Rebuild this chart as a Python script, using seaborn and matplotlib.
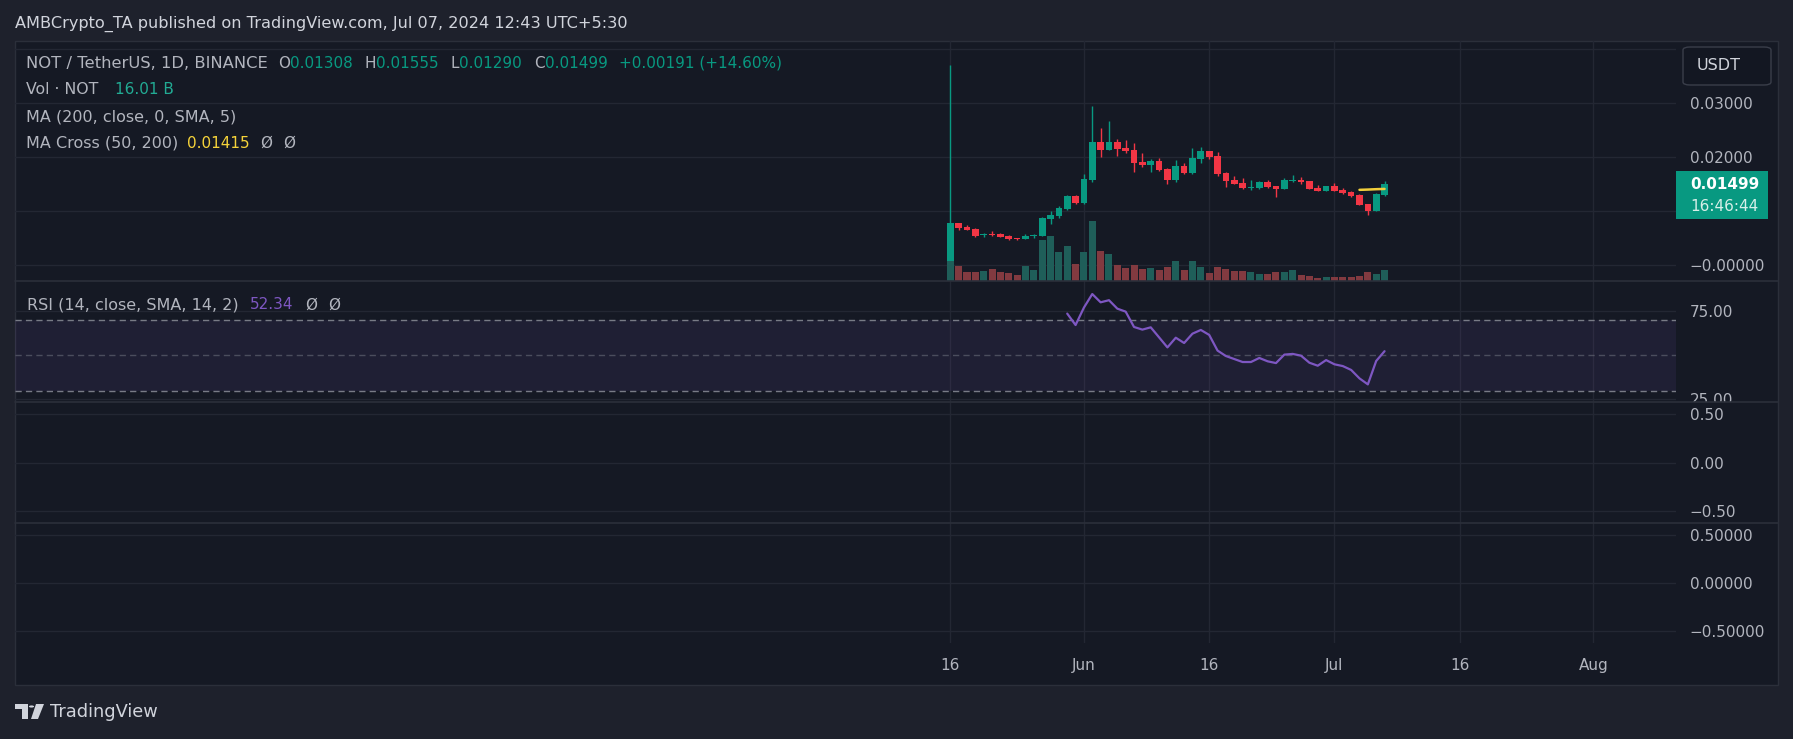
import numpy as np
import pandas as pd
import seaborn as sns
import matplotlib.pyplot as plt
from matplotlib.patches import Rectangle, FancyBboxPatch, Polygon, Circle
from matplotlib.lines import Line2D
from matplotlib.transforms import blended_transform_factory, offset_copy, Bbox

# NOT / USDT daily candles
dates = pd.date_range("2024-05-16", periods=53, freq="D")
opens = [0.0006, 0.00784, 0.00716, 0.00673, 0.0056, 0.0058, 0.0058, 0.00543, 0.00506, 0.00488,
         0.0055, 0.00543, 0.00858, 0.00914, 0.01043, 0.01284, 0.01154, 0.0158, 0.02284, 0.02136,
         0.02284, 0.02173, 0.02136, 0.01914, 0.01858, 0.01932, 0.01784, 0.0158, 0.0184, 0.0171,
         0.01969, 0.02117, 0.02025, 0.0171, 0.0158, 0.01525, 0.01432, 0.01432, 0.01543, 0.01469,
         0.01414, 0.01562, 0.0158, 0.01562, 0.01432, 0.01376, 0.01469, 0.01395, 0.01358, 0.01302,
         0.01136, 0.01006, 0.01308]
highs = [0.0371, 0.0079, 0.00747, 0.0069, 0.00605, 0.00636, 0.0059, 0.0056, 0.0051, 0.0058,
         0.0058, 0.00895, 0.01006, 0.01099, 0.01302, 0.0130, 0.01691, 0.0295, 0.02543, 0.02673,
         0.0234, 0.02321, 0.02265, 0.0208, 0.01969, 0.01988, 0.018, 0.0195, 0.01895, 0.02173,
         0.02191, 0.0212, 0.02099, 0.0172, 0.01654, 0.01617, 0.0158, 0.01562, 0.0158, 0.0147,
         0.01617, 0.01673, 0.01636, 0.0157, 0.01488, 0.0147, 0.01525, 0.01432, 0.01376, 0.01321,
         0.0114, 0.0134, 0.01555]
lows = [0.0005, 0.00654, 0.0065, 0.0053, 0.00525, 0.0054, 0.0052, 0.0047, 0.0047, 0.0048,
        0.0051, 0.0054, 0.00765, 0.00877, 0.01025, 0.01136, 0.0114, 0.01543, 0.02006, 0.0213,
        0.02025, 0.0208, 0.01728, 0.01821, 0.01728, 0.0175, 0.01506, 0.01543, 0.01691, 0.01691,
        0.01895, 0.01969, 0.01654, 0.01451, 0.015, 0.01414, 0.01395, 0.01414, 0.01432, 0.01265,
        0.0141, 0.01543, 0.01506, 0.0141, 0.0137, 0.0137, 0.0137, 0.0133, 0.01265, 0.0111,
        0.00932, 0.01, 0.0129]
closes = [0.00784, 0.00691, 0.0066, 0.00543, 0.0058, 0.0056, 0.00525, 0.00488, 0.00488, 0.00543,
          0.0056, 0.00877, 0.00932, 0.01062, 0.01284, 0.01154, 0.01599, 0.02284, 0.02136, 0.02284,
          0.02154, 0.02117, 0.01895, 0.01858, 0.01932, 0.01765, 0.0158, 0.0184, 0.0171, 0.01988,
          0.02117, 0.02006, 0.01691, 0.01562, 0.01506, 0.01432, 0.0145, 0.01543, 0.0145, 0.01414,
          0.0158, 0.0158, 0.01543, 0.01414, 0.01376, 0.01469, 0.01376, 0.0134, 0.01284, 0.01117,
          0.01006, 0.01321, 0.01499]
# volume in billions NOT
volumes = [29.1, 21.8, 13.1, 13.1, 14.6, 17.5, 13.1, 11.6, 8.7, 21.8,
           16.0, 59.7, 65.5, 42.2, 50.9, 24.7, 42.2, 87.3, 43.7, 39.3,
           23.3, 18.9, 23.3, 17.5, 18.9, 16.0, 20.4, 29.1, 16.0, 29.1,
           20.4, 11.6, 20.4, 17.5, 14.6, 14.6, 13.1, 10.2, 10.2, 13.1,
           13.1, 16.0, 8.7, 7.3, 4.4, 5.8, 5.8, 5.8, 5.8, 7.3,
           13.1, 10.2, 16.01]
rsi_dates = dates[14:]
rsi_vals = [73.7, 67.2, 77.1, 84.8, 80.1, 81.3, 76.5, 74.8, 66.1, 64.6,
            65.9, 60.2, 54.5, 60.0, 57.0, 62.3, 64.4, 61.6, 52.7, 49.6,
            47.9, 46.2, 46.2, 48.5, 46.6, 45.6, 50.4, 50.8, 49.8, 45.8,
            44.1, 47.3, 44.9, 43.9, 41.7, 36.9, 33.5, 46.8, 52.34]
ma_dates = dates[49:]
ma_cross = [0.01398, 0.01403, 0.01410, 0.01415]

tick_dates = pd.to_datetime(["2024-05-16", "2024-06-01", "2024-06-16",
                             "2024-07-01", "2024-07-16", "2024-08-01"])
tick_names = ["16", "Jun", "16", "Jul", "16", "Aug"]

W, H = 1793, 739
BG = "#1e212c"
PANE = "#151924"
GRID = "#232733"
SEP = "#2b2f3a"
TXT = "#b2b5be"
UP = "#089981"
DOWN = "#f23645"

sns.set_theme(style="dark", rc={
    "axes.facecolor": PANE, "figure.facecolor": BG, "grid.color": GRID,
    "axes.edgecolor": PANE, "text.color": TXT, "xtick.color": TXT, "ytick.color": TXT,
    "patch.edgecolor": "none", "patch.linewidth": 0,
})
plt.rcParams["font.family"] = ["DejaVu Sans"]

fig = plt.figure(figsize=(W / 100, H / 100), dpi=100)


def px_box(top, bottom, left=15, right=1676):
    return [left / W, 1 - bottom / H, (right - left) / W, (bottom - top) / H]


def fx(x):
    return x / W


def fy(y):
    return 1 - y / H


# chart frame (behind the axes, gives the pane background)
fig.patches.append(Rectangle((fx(15), fy(685)), (1778 - 15) / W, (685 - 41) / H,
                             transform=fig.transFigure, facecolor=PANE, edgecolor=SEP, lw=1, zorder=-5))

ax_p = fig.add_axes(px_box(41, 281))
ax_r = fig.add_axes(px_box(281, 402), sharex=ax_p)
ax_a = fig.add_axes(px_box(402, 523), sharex=ax_p)
ax_b = fig.add_axes(px_box(523, 643), sharex=ax_p)

# volume overlay on a twin of the price pane
ax_v = ax_p.twinx()

for ax in (ax_p, ax_r, ax_a, ax_b):
    for s in ax.spines.values():
        s.set_visible(False)
    ax.patch.set_visible(False)
    ax.yaxis.tick_right()
    ax.tick_params(axis="y", length=0, pad=10, labelsize=11, labelcolor=TXT)
    ax.tick_params(axis="x", length=0, labelbottom=False)
    ax.set_xticks(tick_dates)
    ax.grid(True, color=GRID, lw=1)

ax_p.set_xlim(dates[0] - pd.Timedelta(days=112.0), dates[0] + pd.Timedelta(days=86.9))

# candles
o = np.array(opens)
c = np.array(closes)
up = c >= o
cols = np.where(up, UP, DOWN)
ax_p.vlines(dates, lows, highs, colors=cols, lw=1, zorder=3)
ax_p.bar(dates, np.maximum(np.abs(c - o), 0.0002), bottom=np.minimum(o, c), width=0.8,
         color=cols, edgecolor="none", lw=0, zorder=4)
sns.lineplot(x=ma_dates, y=ma_cross, ax=ax_p, color="#f2cf3c", lw=1.8, zorder=5)
ax_p.set_ylim(-0.0029, 0.04154)
ax_p.set_yticks([0, 0.01, 0.02, 0.03, 0.04], labels=["\u22120.00000", "", "0.02000", "0.03000", ""])

ax_v.bar(dates, volumes, width=0.84, color=np.where(up, "#1f5e59", "#823a40"),
         edgecolor="none", lw=0, zorder=2)
ax_v.set_ylim(0, 348)
ax_v.set_yticks([])
ax_v.grid(False)
ax_v.patch.set_visible(False)
for s in ax_v.spines.values():
    s.set_visible(False)

# RSI
ax_r.axhspan(30, 70, color="#7e57c2", alpha=0.1, lw=0)
for lvl, a in ((70, 1.0), (50, 0.5), (30, 1.0)):
    ax_r.axhline(lvl, color="#787b86", lw=1, ls=(0, (4.5, 3)), alpha=a)
sns.lineplot(x=rsi_dates, y=rsi_vals, ax=ax_r, color="#7e57c2", lw=1.6)
ax_r.set_ylim(23.5, 92.2)
ax_r.set_yticks([25, 75], labels=["25.00", "75.00"])
clip = Bbox.from_extents(0, H - 402, W, H - 281)
for t in ax_r.yaxis.get_major_ticks():
    t.label2.set_clip_on(True)
    t.label2.set_clip_box(clip)

# empty panes
ax_a.set_ylim(-0.625, 0.625)
ax_a.set_yticks([-0.5, 0, 0.5], labels=["\u22120.50", "0.00", "0.50"])
ax_b.set_ylim(-0.625, 0.625)
ax_b.set_yticks([-0.5, 0, 0.5], labels=["\u22120.50000", "0.00000", "0.50000"])
ax_b.set_xticks(tick_dates, labels=tick_names)
ax_b.tick_params(axis="x", labelbottom=True, pad=11, labelsize=11, labelcolor=TXT)

for ax in (ax_p, ax_r, ax_a, ax_b):
    ax.set_xlabel("")
    ax.set_ylabel("")

# pane separators
for yy in (281, 402, 523):
    fig.add_artist(Line2D([fx(15), fx(1778)], [fy(yy), fy(yy)], color=SEP, lw=1.2, zorder=5))

# last price tag
blend = blended_transform_factory(ax_p.transAxes, ax_p.transData)
ax_p.add_patch(Rectangle((1.0, closes[-1] - 0.0064), 92 / 1661, 0.00889, transform=blend,
                         facecolor=UP, edgecolor="none", clip_on=False, zorder=10))
ax_p.text(1.0084, closes[-1], f"{closes[-1]:.5f}", transform=blend, ha="left", va="center",
          color="white", fontsize=11, fontweight="bold", zorder=11, clip_on=False)
ax_p.text(1.0084, closes[-1], "16:46:44", transform=offset_copy(blend, fig=fig, y=-22.5, units="dots"),
          ha="left", va="center", color="#d7efe9", fontsize=11, zorder=11, clip_on=False)

# USDT box
fig.patches.append(FancyBboxPatch((fx(1683), fy(85)), 88 / W, 38 / H, boxstyle="round,pad=0,rounding_size=0.004",
                                  transform=fig.transFigure, facecolor="#131722", edgecolor="#3a3e4a", lw=1,
                                  zorder=6))
fig.text(fx(1697), fy(66), "USDT", ha="left", va="center", color="#d1d4dc", fontsize=11.5, zorder=7)

# header texts
fig.text(fx(15), fy(24), "AMBCrypto_TA published on TradingView.com, Jul 07, 2024 12:43 UTC+5:30",
         ha="left", va="center", color="#d1d4dc", fontsize=11.6)
row1 = [(26.5, "NOT / TetherUS, 1D, BINANCE", TXT, 11.8), (278, "O", TXT, 11), (290, "0.01308", UP, 11),
        (365, "H", TXT, 11), (376, "0.01555", UP, 11), (451, "L", TXT, 11), (459, "0.01290", UP, 11),
        (534, "C", TXT, 11), (545, "0.01499", UP, 11), (619, "+0.00191 (+14.60%)", UP, 11)]
for x, s, col, fs in row1:
    fig.text(fx(x), fy(63), s, ha="left", va="center", color=col, fontsize=fs)
fig.text(fx(26.5), fy(90), "Vol \u00b7 NOT", ha="left", va="center", color=TXT, fontsize=11.3)
fig.text(fx(115), fy(90), "16.01 B", ha="left", va="center", color="#22ab94", fontsize=11)
fig.text(fx(26.5), fy(117), "MA (200, close, 0, SMA, 5)", ha="left", va="center", color=TXT, fontsize=11.5)
fig.text(fx(26.5), fy(143), "MA Cross (50, 200)", ha="left", va="center", color=TXT, fontsize=11.5)
fig.text(fx(187), fy(143), "0.01415", ha="left", va="center", color="#f5d33a", fontsize=11)
fig.text(fx(260), fy(143), "\u00d8", ha="left", va="center", color=TXT, fontsize=11)
fig.text(fx(283), fy(143), "\u00d8", ha="left", va="center", color=TXT, fontsize=11)
fig.text(fx(27), fy(305), "RSI (14, close, SMA, 14, 2)", ha="left", va="center", color=TXT, fontsize=11.5)
fig.text(fx(250), fy(305), "52.34", ha="left", va="center", color="#7e57c2", fontsize=11)
fig.text(fx(305), fy(305), "\u00d8", ha="left", va="center", color=TXT, fontsize=11)
fig.text(fx(328), fy(305), "\u00d8", ha="left", va="center", color=TXT, fontsize=11)

# footer logo
LOGO = "#d1d4dc"
fig.patches.append(Polygon([(fx(15), fy(704)), (fx(28), fy(704)), (fx(28), fy(719)), (fx(22), fy(719)),
                            (fx(22), fy(709)), (fx(15), fy(709))], closed=True, transform=fig.transFigure,
                           facecolor=LOGO, edgecolor="none"))
fig.patches.append(Circle((fx(31.5), fy(706.5)), 2.6 / W, transform=fig.transFigure,
                          facecolor=LOGO, edgecolor="none"))
fig.patches.append(Polygon([(fx(36), fy(704)), (fx(44), fy(704)), (fx(38), fy(719)), (fx(31), fy(719))],
                           closed=True, transform=fig.transFigure, facecolor=LOGO, edgecolor="none"))
fig.text(fx(50), fy(712), "TradingView", ha="left", va="center", color=LOGO, fontsize=12.8)

fig.savefig("out.png", dpi=100, facecolor=BG)
